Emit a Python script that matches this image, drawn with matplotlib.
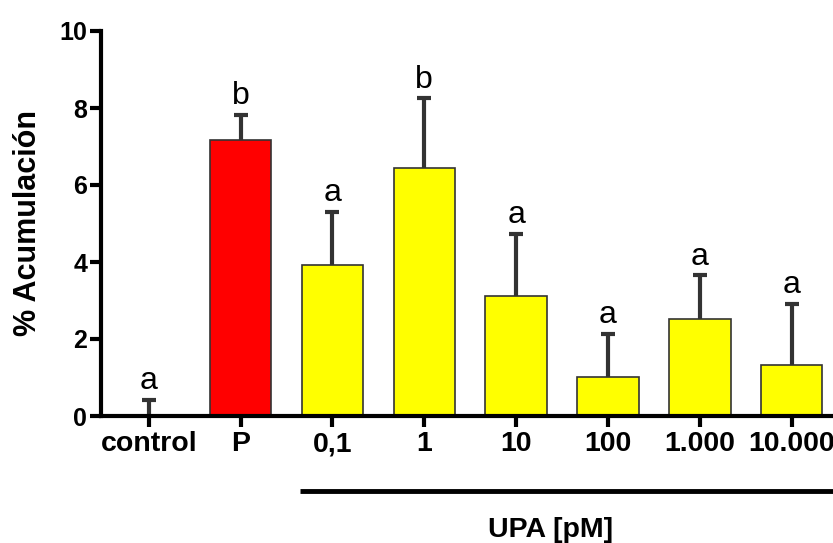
import matplotlib
matplotlib.use("Agg")
import matplotlib.pyplot as plt
from matplotlib.transforms import blended_transform_factory

categories = ["control", "P", "0,1", "1", "10", "100", "1.000", "10.000"]
means = [0.0, 7.16, 3.93, 6.45, 3.11, 1.01, 2.52, 1.33]
sem = [0.42, 0.67, 1.37, 1.80, 1.61, 1.12, 1.13, 1.58]
letters = ["a", "b", "a", "b", "a", "a", "a", "a"]
colors = ["#ffffff", "#ff0000", "#ffff00", "#ffff00", "#ffff00", "#ffff00", "#ffff00", "#ffff00"]
group_label = "UPA [pM]"
ylabel = "% Acumulación"

plt.rcParams['font.family'] = ['Liberation Sans', 'DejaVu Sans']

fig = plt.figure(figsize=(8.33, 5.43), dpi=100)
W, H = 833, 543
ax = fig.add_axes([101/W, 1 - 416/H, (833 - 101)/W, (416 - 31)/H])

x = list(range(len(categories)))
ax.bar(x, means, width=0.67, color=colors, edgecolor="#333333", linewidth=1.2, zorder=3)
eb = ax.errorbar(x, means, yerr=[[0]*len(sem), sem], fmt="none", ecolor="#333333",
                 elinewidth=3, capsize=5, capthick=3, zorder=2)
# hide lower caps (only upper error bars are shown)
eb[1][0].set_visible(False)
for xi, m, s, l in zip(x, means, sem, letters):
    ax.text(xi, m + s + 0.1, l, ha="center", va="bottom", fontsize=23, color="black")

ax.set_xlim(-0.52, 7.45)
ax.set_ylim(0, 10)
ax.set_yticks([0, 2, 4, 6, 8, 10])
ax.set_xticks(x)
ax.set_xticklabels(categories)
for sp in ["top", "right"]:
    ax.spines[sp].set_visible(False)
for sp in ["left", "bottom"]:
    ax.spines[sp].set_linewidth(3)
    ax.spines[sp].set_zorder(5)
ax.tick_params(axis="both", width=3, length=8)
ax.tick_params(axis="y", labelsize=18, pad=2)
ax.tick_params(axis="x", labelsize=20.5, pad=3)
for lab in ax.get_xticklabels() + ax.get_yticklabels():
    lab.set_fontweight("bold")
ax.set_ylabel(ylabel, fontsize=22, fontweight="bold", labelpad=12)

# group line and label
trans = blended_transform_factory(ax.transData, fig.transFigure)
ax.plot([x[2] - 0.35, 7.45], [1 - 491/H]*2, transform=trans, color="black", lw=3.5,
        clip_on=False, solid_capstyle="butt")
fig.text(551/W, 1 - 530/H, group_label, ha="center", va="center", fontsize=20.5, fontweight="bold")

fig.savefig("out.png", dpi=100)
